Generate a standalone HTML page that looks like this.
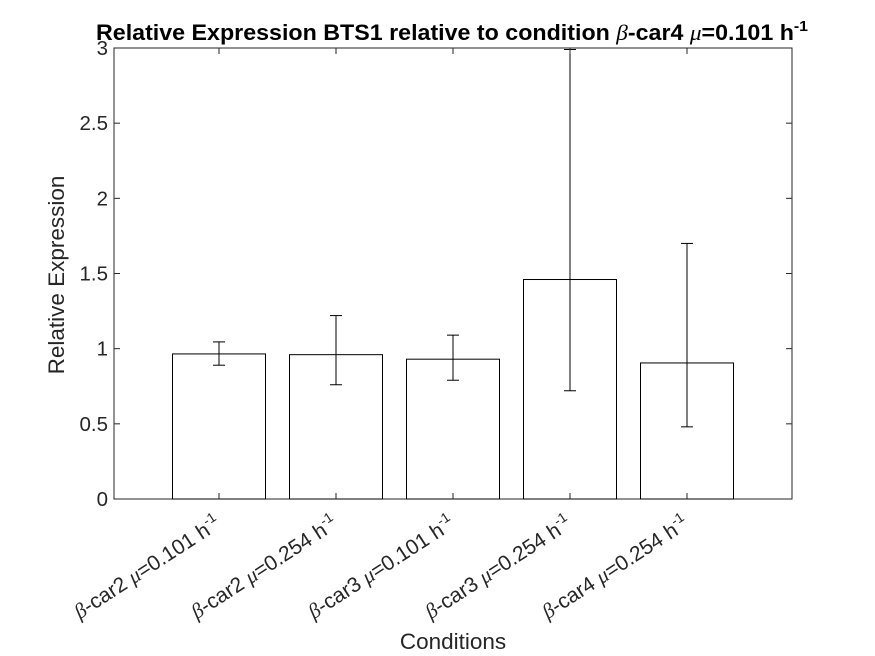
<!DOCTYPE html>
<html><head><meta charset="utf-8"><style>
body{margin:0;background:#fff;}
svg{display:block;font-family:"Liberation Sans",sans-serif;}
</style></head><body>
<svg id="c" width="875" height="656"></svg>
<script>
const categories=["car2|0.101","car2|0.254","car3|0.101","car3|0.254","car4|0.254"];
const values=[0.965,0.96,0.93,1.46,0.905];
const errHigh=[1.045,1.22,1.09,2.99,1.70];
const errLow=[0.89,0.76,0.79,0.72,0.48];
const yTicks=[0,0.5,1,1.5,2,2.5,3];
const yTickLabels=["0","0.5","1","1.5","2","2.5","3"];
const NS="http://www.w3.org/2000/svg";
const svg=document.getElementById('c');
const L=114,R=792,T=48,B=499;
const y=v=>B-(v/3)*(B-T);
const x=i=>219+i*117;
const bw=93;
function mk(t,a,p){const e=document.createElementNS(NS,t);for(const k in a)e.setAttribute(k,a[k]);(p||svg).appendChild(e);return e;}
mk('rect',{x:L,y:T,width:R-L,height:B-T,fill:'#fff',stroke:'#262626','stroke-width':1});
values.forEach((v,i)=>{
 const r=mk('rect',{x:x(i)-bw/2,y:y(v),width:bw,height:B-y(v),fill:'#fff',stroke:'#000','stroke-width':1});
 
 
 const g=mk('g',{stroke:'#000','stroke-width':1});
 
 
 mk('line',{x1:x(i),x2:x(i),y1:y(errHigh[i]),y2:y(errLow[i])},g);
 mk('line',{x1:x(i)-6,x2:x(i)+6,y1:y(errHigh[i]),y2:y(errHigh[i])},g);
 mk('line',{x1:x(i)-6,x2:x(i)+6,y1:y(errLow[i]),y2:y(errLow[i])},g);
 mk('line',{x1:x(i),x2:x(i),y1:B,y2:B-6,stroke:'#262626'});
 mk('line',{x1:x(i),x2:x(i),y1:T,y2:T+6,stroke:'#262626'});
 const [c,m]=categories[i].split('|');
 const ax=x(i)+3, ay=B+28;
 const t=mk('text',{x:ax,y:ay,'text-anchor':'end','font-size':21,fill:'#262626',transform:`rotate(-33 ${ax} ${ay})`});
 
 
 t.innerHTML=`<tspan font-family="Liberation Serif" font-style="italic">β</tspan>-${c} <tspan font-family="Liberation Serif" font-style="italic">μ</tspan>=${m} h<tspan dy="-9" font-size="14">-1</tspan>`;
});
yTicks.forEach((v,i)=>{
 mk('line',{x1:L,x2:L+6,y1:y(v),y2:y(v),stroke:'#262626'});
 mk('line',{x1:R,x2:R-6,y1:y(v),y2:y(v),stroke:'#262626'});
 const t=mk('text',{x:L-6,y:y(v)+7,'text-anchor':'end','font-size':20.5,fill:'#262626'});
 
 
 t.textContent=yTickLabels[i];
});
const yt=mk('text',{x:64,y:275,'text-anchor':'middle','font-size':22.5,fill:'#262626',transform:`rotate(-90 64 275)`});

yt.textContent='Relative Expression';
const xt=mk('text',{x:453,y:649,'text-anchor':'middle','font-size':22.5,fill:'#262626'});

xt.textContent='Conditions';
const tt=mk('text',{x:96,y:40,'text-anchor':'start','font-size':22,'font-weight':'bold',fill:'#000',textLength:712,lengthAdjust:'spacingAndGlyphs'});

tt.innerHTML='Relative Expression BTS1 relative to condition <tspan font-family="Liberation Serif" font-style="italic" font-weight="normal">β</tspan>-car4 <tspan font-family="Liberation Serif" font-style="italic" font-weight="normal">μ</tspan>=0.101 h<tspan dy="-9" font-size="15">-1</tspan>';
</script>
</body></html>
